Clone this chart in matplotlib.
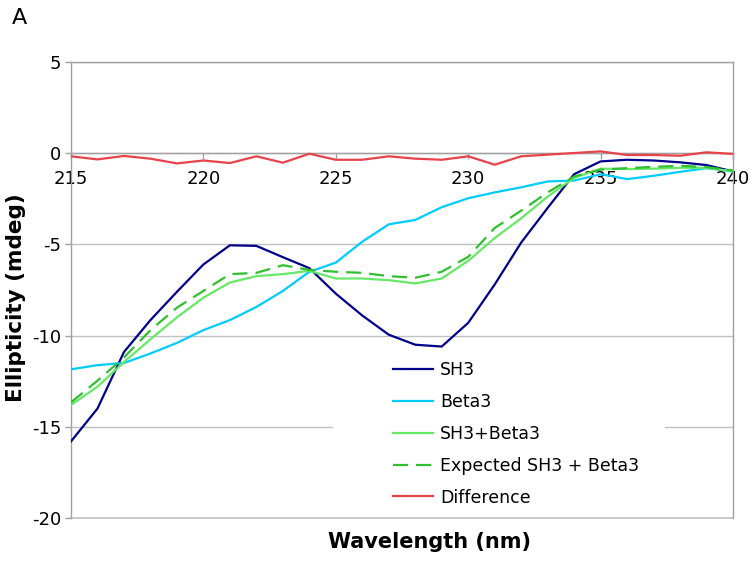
import matplotlib
matplotlib.use("Agg")
import matplotlib.pyplot as plt
from matplotlib.patches import Rectangle

# Wavelengths (nm) and CD ellipticity (mdeg) for each series
wavelength = list(range(215, 241))

sh3 = [-15.8, -14.0, -10.9, -9.15, -7.6, -6.1, -5.05, -5.08, -5.7, -6.3,
       -7.7, -8.9, -9.95, -10.5, -10.6, -9.3, -7.2, -4.9, -3.0, -1.15,
       -0.45, -0.36, -0.4, -0.5, -0.65, -1.0]

beta3 = [-11.85, -11.62, -11.5, -10.98, -10.4, -9.7, -9.15, -8.43, -7.55, -6.5,
         -6.0, -4.85, -3.9, -3.66, -2.96, -2.47, -2.15, -1.87, -1.55, -1.5,
         -1.15, -1.42, -1.24, -1.02, -0.82, -1.0]

sh3_beta3 = [-13.8, -12.8, -11.45, -10.2, -9.0, -7.92, -7.09, -6.74, -6.63, -6.45,
             -6.87, -6.87, -6.96, -7.14, -6.87, -5.9, -4.65, -3.57, -2.38, -1.35,
             -0.85, -0.87, -0.85, -0.8, -0.8, -1.0]

expected = [-13.66, -12.47, -11.2, -9.7, -8.47, -7.55, -6.63, -6.56, -6.14, -6.4,
            -6.5, -6.56, -6.74, -6.83, -6.5, -5.68, -4.1, -3.15, -2.15, -1.28,
            -0.9, -0.82, -0.75, -0.69, -0.76, -0.95]

difference = [-0.17, -0.34, -0.15, -0.3, -0.56, -0.4, -0.54, -0.17, -0.52, -0.03,
              -0.36, -0.36, -0.17, -0.3, -0.36, -0.17, -0.63, -0.17, -0.08, 0.01,
              0.1, -0.1, -0.1, -0.14, 0.05, -0.04]

x_ticks = [215, 220, 225, 230, 235, 240]
y_ticks = [-20, -15, -10, -5, 0, 5]

W, H = 755, 563
fig = plt.figure(figsize=(W / 100, H / 100), dpi=100)
ax = fig.add_axes([71 / W, 1 - 518 / H, (733 - 71) / W, (518 - 62) / H])

grid_c = "#c0c0c0"
axis_c = "#a0a0a0"

lw = 1.6
ax.plot(wavelength, sh3, color="#00008c", lw=lw, label="SH3", zorder=4)
ax.plot(wavelength, beta3, color="#00ccff", lw=lw, label="Beta3", zorder=4)
ax.plot(wavelength, sh3_beta3, color="#66e866", lw=lw, label="SH3+Beta3", zorder=4)
ax.plot(wavelength, expected, color="#2fbf2f", lw=lw, dashes=(10.8 / lw, 5.8 / lw),
        label="Expected SH3 + Beta3", zorder=5)
ax.plot(wavelength, difference, color="#e8424a", lw=lw, label="Difference", zorder=4)

ax.set_xlim(215, 240)
ax.set_ylim(-20, 5)
ax.set_xticks(x_ticks)
ax.set_yticks(y_ticks)
ax.set_yticklabels([str(v) for v in y_ticks])

ax.yaxis.grid(True, color=grid_c, lw=1.0, zorder=0)
ax.xaxis.grid(False)
ax.set_axisbelow(True)
# plot-area bottom edge
ax.axhline(-20, color=grid_c, lw=1.2, clip_on=False, zorder=0.5)

for side in ("top", "right", "left"):
    ax.spines[side].set_color(axis_c)
    ax.spines[side].set_linewidth(1.0)
ax.spines["bottom"].set_position(("data", 0))
ax.spines["bottom"].set_color(axis_c)
ax.spines["bottom"].set_linewidth(1.0)

ax.tick_params(axis="x", direction="out", length=4, width=1, color=axis_c,
               labelsize=13, pad=8)
ax.tick_params(axis="y", direction="out", length=4, width=1, color=axis_c,
               labelsize=13, pad=3)

# white backing behind the legend entries
ax.add_patch(Rectangle((333 / W, 1 - 512 / H), (665 - 333) / W, (512 - 350) / H,
                       transform=fig.transFigure, facecolor="white",
                       edgecolor="none", zorder=1))

leg = ax.legend(loc="upper left", bbox_to_anchor=(393 / W, 1 - 361 / H),
                bbox_transform=fig.transFigure, frameon=False, fontsize=12.5,
                handlelength=2.3, handletextpad=0.42, labelspacing=0.8,
                borderaxespad=0, borderpad=0)
leg.set_zorder(6)

fig.text(16 / W, 1 - 298 / H, "Ellipticity (mdeg)", rotation=90, ha="center",
         va="center", fontsize=15.5, fontweight="bold")
fig.text(429 / W, 1 - 542 / H, "Wavelength (nm)", ha="center", va="center",
         fontsize=15, fontweight="bold")
fig.text(12 / W, 1 - 18 / H, "A", ha="left", va="center", fontsize=16)

fig.savefig("out.png", dpi=100, facecolor="white")
